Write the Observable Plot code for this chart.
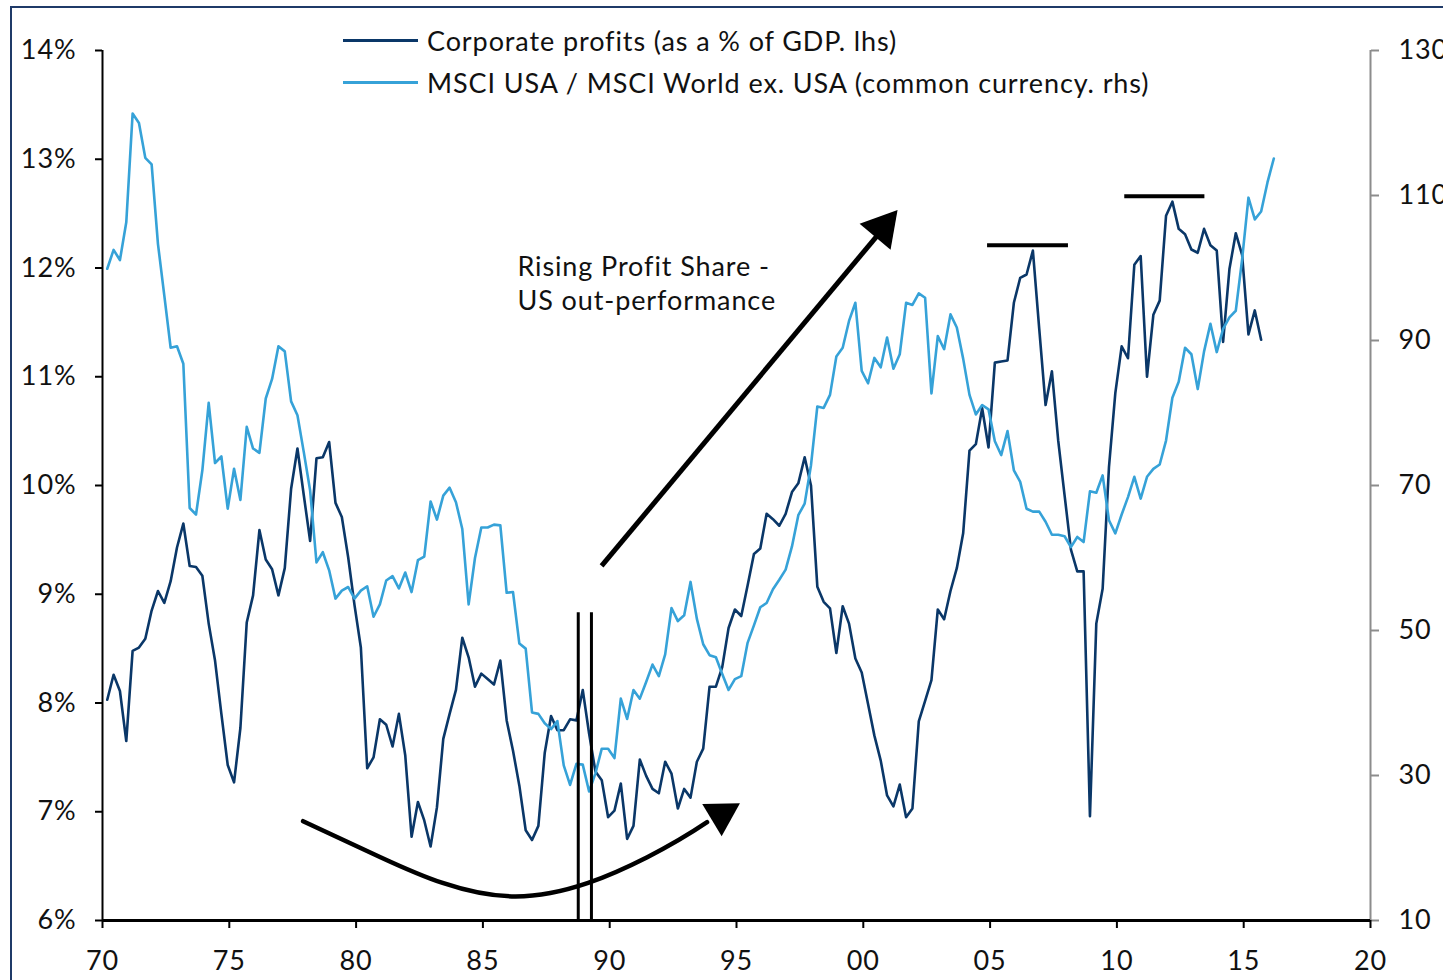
<!DOCTYPE html>
<html>
<head>
<meta charset="utf-8">
<script src="https://cdn.jsdelivr.net/npm/d3@7"></script>
<script src="https://cdn.jsdelivr.net/npm/@observablehq/plot@0.6"></script>
<style>
  html, body { margin: 0; padding: 0; background: #fff; overflow: hidden; width: 1443px; height: 980px; }
  body { position: relative; font-family: Lato, "Noto Sans", sans-serif; }
  #frame { position: absolute; left: 10px; top: 6px; width: 1600px; height: 1200px; border: 2px solid #1f3a68; box-sizing: border-box; }
  #chart { position: absolute; left: 0; top: 0; }
  .legend { position: absolute; left: 343px; top: 19px; font-size: 27px; letter-spacing: 0.9px; color: #111; }
  .legend .row { display: flex; align-items: center; height: 42px; }
  .legend .swatch { width: 75px; height: 3px; margin-right: 9px; }
</style>
</head>
<body>
<div id="frame"></div>
<div id="chart"></div>
<div class="legend">
  <div class="row"><span class="swatch" style="background:#0a3768"></span><span>Corporate profits (as a % of GDP. lhs)</span></div>
  <div class="row"><span class="swatch" style="background:#36a2d8"></span><span>MSCI USA / MSCI World ex. USA (common currency. rhs)</span></div>
</div>
<script>
// Quarterly series, first observation plotted at startYear, one value per quarter
const startYear = 1970.1875;
const quarterStep = 0.25;

// Corporate profits, % of GDP (left axis)
const profits = [
  8.03, 8.26, 8.11, 7.65, 8.48, 8.51, 8.59, 8.85, 9.03, 8.92,
  9.12, 9.43, 9.65, 9.26, 9.25, 9.17, 8.73, 8.39, 7.90, 7.43,
  7.27, 7.77, 8.74, 8.99, 9.59, 9.32, 9.23, 8.99, 9.24, 9.97,
  10.34, 9.91, 9.49, 10.25, 10.26, 10.40, 9.84, 9.71, 9.34, 8.90,
  8.51, 7.40, 7.50, 7.85, 7.80, 7.60, 7.90, 7.52, 6.77, 7.09,
  6.92, 6.68, 7.04, 7.67, 7.90, 8.12, 8.60, 8.42, 8.15, 8.27,
  8.22, 8.17, 8.39, 7.84, 7.56, 7.24, 6.83, 6.74, 6.87, 7.54,
  7.88, 7.75, 7.75, 7.85, 7.84, 8.12, 7.72, 7.37, 7.29, 6.95,
  7.01, 7.26, 6.75, 6.87, 7.48, 7.33, 7.21, 7.17, 7.46, 7.35,
  7.03, 7.21, 7.13, 7.46, 7.58, 8.15, 8.15, 8.33, 8.69, 8.86,
  8.80, 9.08, 9.37, 9.42, 9.74, 9.69, 9.63, 9.74, 9.94, 10.02,
  10.26, 10.00, 9.07, 8.93, 8.87, 8.46, 8.89, 8.73, 8.41, 8.28,
  7.99, 7.70, 7.47, 7.15, 7.05, 7.25, 6.95, 7.03, 7.83, 8.02,
  8.21, 8.86, 8.77, 9.03, 9.24, 9.56, 10.32, 10.38, 10.71, 10.35,
  11.13, 11.14, 11.15, 11.68, 11.91, 11.94, 12.16, 11.44, 10.74, 11.05,
  10.41, 9.91, 9.41, 9.21, 9.21, 6.96, 8.73, 9.05, 10.17, 10.85,
  11.28, 11.17, 12.03, 12.11, 11.00, 11.57, 11.70, 12.48, 12.61, 12.36,
  12.31, 12.17, 12.14, 12.36, 12.21, 12.16, 11.32, 11.99, 12.32, 12.12,
  11.39, 11.61, 11.34
];

// MSCI USA / MSCI World ex. USA, common currency (right axis)
const msci = [
  99.9, 102.5, 101.1, 106.3, 121.3, 120.0, 115.2, 114.3, 103.3, 96.2,
  89.0, 89.2, 86.8, 66.9, 66.0, 72.1, 81.4, 73.1, 74.0, 66.8,
  72.3, 68.0, 78.1, 75.1, 74.5, 82.0, 84.7, 89.2, 88.5, 81.6,
  79.7, 74.6, 69.3, 59.4, 60.8, 58.3, 54.4, 55.5, 56.0, 54.4,
  55.5, 56.1, 51.9, 53.6, 56.9, 57.5, 55.8, 58.0, 55.3, 59.7,
  60.2, 67.8, 65.3, 68.6, 69.7, 67.7, 64.0, 53.6, 60.0, 64.2,
  64.2, 64.6, 64.5, 55.2, 55.3, 48.2, 47.5, 38.7, 38.5, 37.2,
  36.4, 37.5, 31.4, 28.7, 31.6, 31.5, 27.8, 30.3, 33.7, 33.7,
  32.4, 40.6, 37.8, 41.8, 40.6, 42.9, 45.3, 43.7, 46.7, 53.1,
  51.3, 52.1, 56.7, 51.6, 48.1, 46.6, 46.3, 44.0, 41.8, 43.3,
  43.7, 48.3, 50.7, 53.2, 53.8, 55.7, 57.0, 58.4, 61.6, 65.9,
  67.5, 72.8, 80.9, 80.7, 82.5, 87.8, 89.0, 92.7, 95.2, 85.8,
  84.1, 87.6, 86.3, 90.4, 86.1, 88.1, 95.2, 94.9, 96.5, 95.9,
  82.7, 90.6, 88.8, 93.6, 91.8, 87.5, 82.5, 79.8, 81.1, 80.5,
  76.1, 74.2, 77.5, 72.1, 70.5, 66.8, 66.4, 66.4, 65.0, 63.2,
  63.2, 63.0, 61.5, 62.9, 62.2, 69.2, 69.0, 71.4, 65.2, 63.4,
  66.0, 68.4, 71.2, 68.2, 71.2, 72.3, 72.9, 76.2, 82.1, 84.3,
  89.0, 88.1, 83.3, 88.5, 92.3, 88.4, 91.6, 93.2, 94.1, 101.2,
  109.7, 106.7, 107.8, 111.8, 115.1
];

// Axis ticks
const xTicks = [1970, 1975, 1980, 1985, 1990, 1995, 2000, 2005, 2010, 2015, 2020];
const leftTicks = [6, 7, 8, 9, 10, 11, 12, 13, 14];
const rightTicks = [10, 30, 50, 70, 90, 110, 130];

// Annotations (in data units: year, left-axis %)
const noteLines = [
  {x: 1986.36, y: 12.01, text: "Rising Profit Share -"},
  {x: 1986.36, y: 11.69, text: "US out-performance"}
];
const riseArrowLine = [{x1: 1989.68, y1: 9.26, x2: 2000.70, y2: 12.34}];
const riseArrowHead = [{x: 2000.76, y: 12.37, angle: 40}];
const troughCurve = [
  {x: 1977.91, y: 6.913},
  {x: 1980.96, y: 6.582},
  {x: 1986.29, y: 6.221},
  {x: 1991.48, y: 6.582},
  {x: 1993.84, y: 6.904}
];
const troughArrowHead = [{x: 1994.40, y: 6.975, angle: 59}];
const markerYears = [1988.76, 1989.28];
const markerTop = 8.83;
const peakBars = [
  {x1: 2004.90, x2: 2008.09, y: 12.21},
  {x1: 2010.31, x2: 2013.47, y: 12.66}
];

// Right-axis mapping onto the left-axis scale
const leftDomain = [6, 14];
const rightDomain = [10, 130];
const toLeft = v => leftDomain[0] + (v - rightDomain[0]) * (leftDomain[1] - leftDomain[0]) / (rightDomain[1] - rightDomain[0]);
const fromLeft = v => rightDomain[0] + (v - leftDomain[0]) * (rightDomain[1] - rightDomain[0]) / (leftDomain[1] - leftDomain[0]);

const profitData = profits.map((v, i) => ({date: startYear + i * quarterStep, value: v}));
const msciData = msci.map((v, i) => ({date: startYear + i * quarterStep, value: toLeft(v)}));

const chart = Plot.plot({
  width: 1443,
  height: 980,
  marginLeft: 102,
  marginRight: 73,
  marginTop: 50,
  marginBottom: 60,
  x: {domain: [1970, 2020]},
  y: {domain: leftDomain},
  style: {fontFamily: "Lato, 'Noto Sans', sans-serif", color: "#111", background: "transparent", overflow: "visible", letterSpacing: "0.9px"},
  marks: [
    Plot.line(profitData, {x: "date", y: "value", stroke: "#0a3768", strokeWidth: 2.6}),
    Plot.line(msciData, {x: "date", y: "value", stroke: "#36a2d8", strokeWidth: 2.6}),
    // axes
    Plot.ruleX([2020], {stroke: "#8c8c8c", strokeWidth: 2}),
    Plot.ruleX([1970], {stroke: "#000", strokeWidth: 2}),
    Plot.ruleY([6], {stroke: "#000", strokeWidth: 3}),
    Plot.axisY({ticks: leftTicks, tickFormat: d => d + "%", tickSize: 7, tickPadding: 19, strokeWidth: 2, stroke: "#000", fontSize: 27, label: null}),
    Plot.axisY({anchor: "right", ticks: rightTicks.map(toLeft), tickFormat: d => String(Math.round(fromLeft(d))), tickSize: 8, tickPadding: 20, strokeWidth: 2, stroke: "#8c8c8c", fill: "#111", fontSize: 27, label: null}),
    Plot.axisX({ticks: xTicks, tickFormat: d => String(d % 100).padStart(2, "0"), tickSize: 8, tickPadding: 22, strokeWidth: 2, stroke: "#000", fontSize: 27, label: null}),
    // annotations
    Plot.ruleX(markerYears, {y1: 6, y2: markerTop, stroke: "#000", strokeWidth: 3}),
    Plot.ruleY(peakBars, {y: "y", x1: "x1", x2: "x2", stroke: "#000", strokeWidth: 4}),
    Plot.link(riseArrowLine, {x1: "x1", y1: "y1", x2: "x2", y2: "y2", stroke: "#000", strokeWidth: 5}),
    Plot.dot(riseArrowHead, {x: "x", y: "y", symbol: "triangle", r: 15, rotate: "angle", fill: "#000", stroke: "none"}),
    Plot.line(troughCurve, {x: "x", y: "y", curve: "natural", stroke: "#000", strokeWidth: 4.5}),
    Plot.dot(troughArrowHead, {x: "x", y: "y", symbol: "triangle", r: 14, rotate: "angle", fill: "#000", stroke: "none"}),
    Plot.text(noteLines, {x: "x", y: "y", text: "text", textAnchor: "start", fontSize: 27, fill: "#111"})
  ]
});
document.getElementById("chart").appendChild(chart);
</script>
</body>
</html>
